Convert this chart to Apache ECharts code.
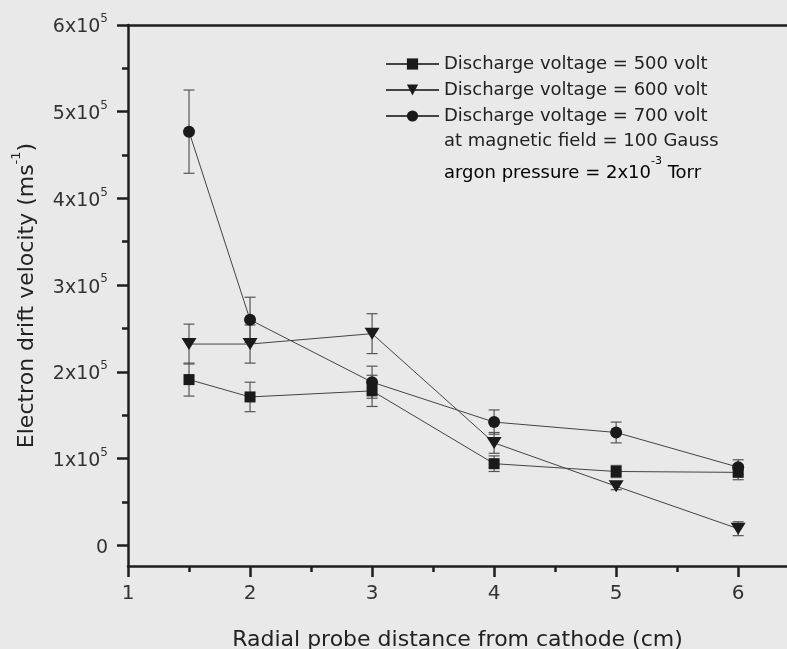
<!DOCTYPE html>
<html>
<head>
<meta charset="utf-8">
<script src="https://cdn.jsdelivr.net/npm/echarts@6/dist/echarts.min.js"></script>
<style>
html,body{margin:0;padding:0;background:#e9e9e9;}
#c{width:787px;height:649px;}
</style>
</head>
<body>
<div id="c"></div>
<script>
// Data
const xPos = [1.5, 2, 3, 4, 5, 6];
const v500 = [191000, 171000, 178000, 94000, 85000, 84000];
const e500 = [19000, 17000, 18000, 9000, 7000, 8500];
const v600 = [232000, 232000, 244000, 118000, 68000, 19000];
const e600 = [23000, 22000, 23000, 12000, 4000, 8000];
const v700 = [477000, 260000, 188000, 142000, 130000, 90000];
const e700 = [48000, 26000, 18500, 14000, 12000, 8500];
const names = ['Discharge voltage = 500 volt', 'Discharge voltage = 600 volt', 'Discharge voltage = 700 volt'];
const xTicks = [1, 2, 3, 4, 5, 6];
const xMinor = [1.5, 2.5, 3.5, 4.5, 5.5];
const yTicks = [0, 100000, 200000, 300000, 400000, 500000, 600000];
const yMinor = [50000, 150000, 250000, 350000, 450000, 550000];

const FONT = 'DejaVu Sans';
const pts = (vals) => xPos.map((x, i) => [x, vals[i]]);
const errs = [];
[[v500, e500], [v600, e600], [v700, e700]].forEach(([v, e]) => {
  xPos.forEach((x, i) => errs.push([x, v[i] - e[i], v[i] + e[i]]));
});

const X_MIN = 1, X_MAX = 6.4, Y_MIN = -24000, Y_MAX = 600000;
const axisLine = { show: true, onZero: false, lineStyle: { color: '#1e1e1e', width: 2.5 } };
const noLine = { show: false, onZero: false };

const chart = echarts.init(document.getElementById('c'));
const lineStyle = { color: '#444', width: 1 };
const itemStyle = { color: '#1a1a1a' };

chart.setOption({
  backgroundColor: '#e9e9e9',
  animation: false,
  grid: { left: 128, right: 0, top: 25, bottom: 83, outerBoundsMode: 'none' },
  legend: {
    data: names,
    orient: 'vertical',
    left: 385, top: 54, padding: 0,
    itemWidth: 53, itemHeight: 14, itemGap: 6,
    textStyle: { fontFamily: FONT, fontSize: 18, color: '#222', lineHeight: 20 },
    iconRotate: 'inherit'
  },
  graphic: [
    { type: 'text', left: 444, top: 132, style: { text: 'at magnetic field = 100 Gauss', font: '18px "DejaVu Sans"', fill: '#222' } },
    { type: 'text', left: 444, top: 156, style: {
        text: '{a|argon pressure = 2x10}{s|-3}{a| Torr}',
        rich: {
          a: { fontFamily: FONT, fontSize: 18, color: '#222', lineHeight: 26, verticalAlign: 'bottom' },
          s: { fontFamily: FONT, fontSize: 11, color: '#222', lineHeight: 12, verticalAlign: 'top' }
        }
    } }
  ],
  xAxis: [
    {
      type: 'value', position: 'bottom', min: X_MIN, max: X_MAX,
      axisLine: axisLine,
      axisTick: { show: true, customValues: xTicks, length: 11, lineStyle: { color: '#1e1e1e', width: 2.5 } },
      axisLabel: { customValues: xTicks, margin: 18, fontFamily: FONT, fontSize: 20, color: '#333' },
      splitLine: { show: false },
      name: 'Radial probe distance from cathode (cm)', nameLocation: 'middle', nameGap: 63,
      nameTextStyle: { fontFamily: FONT, fontSize: 22, color: '#222' }
    },
    {
      type: 'value', position: 'bottom', min: X_MIN, max: X_MAX,
      axisLine: noLine,
      axisTick: { show: true, customValues: xMinor, length: 6, lineStyle: { color: '#1e1e1e', width: 2.5 } },
      axisLabel: { show: false }, splitLine: { show: false }
    },
    {
      type: 'value', position: 'top', min: X_MIN, max: X_MAX,
      axisLine: axisLine, axisTick: { show: false }, axisLabel: { show: false }, splitLine: { show: false }
    }
  ],
  yAxis: [
    {
      type: 'value', position: 'left', min: Y_MIN, max: Y_MAX,
      axisLine: axisLine,
      axisTick: { show: true, customValues: yTicks, length: 11, lineStyle: { color: '#1e1e1e', width: 2.5 } },
      axisLabel: {
        customValues: yTicks, margin: 20, color: '#333', fontFamily: FONT, fontSize: 19,
        formatter: (v) => v === 0 ? '{b|0}' : '{b|' + Math.round(v / 100000) + 'x10}{s|5}',
        rich: {
          b: { fontFamily: FONT, fontSize: 19, color: '#333', lineHeight: 24, verticalAlign: 'bottom' },
          s: { fontFamily: FONT, fontSize: 12, color: '#333', lineHeight: 12, verticalAlign: 'top' }
        }
      },
      splitLine: { show: false },
      name: '{n|Electron drift velocity (ms}{s|-1}{n|)}', nameLocation: 'middle', nameGap: 90,
      nameTextStyle: {
        rich: {
          n: { fontFamily: FONT, fontSize: 22, color: '#222', lineHeight: 28, verticalAlign: 'bottom' },
          s: { fontFamily: FONT, fontSize: 13, color: '#222', lineHeight: 13, verticalAlign: 'top' }
        }
      }
    },
    {
      type: 'value', position: 'left', min: Y_MIN, max: Y_MAX,
      axisLine: noLine,
      axisTick: { show: true, customValues: yMinor, length: 6, lineStyle: { color: '#1e1e1e', width: 2.5 } },
      axisLabel: { show: false }, splitLine: { show: false }
    }
  ],
  series: [
    {
      type: 'custom', name: 'errors', xAxisIndex: 0, yAxisIndex: 0, z: 1,
      data: errs,
      renderItem: (params, api) => {
        const lo = api.coord([api.value(0), api.value(1)]);
        const hi = api.coord([api.value(0), api.value(2)]);
        const st = { stroke: '#555', lineWidth: 1.2 };
        const w = 5.5;
        return {
          type: 'group', children: [
            { type: 'line', shape: { x1: lo[0], y1: lo[1], x2: hi[0], y2: hi[1] }, style: st },
            { type: 'line', shape: { x1: lo[0] - w, y1: lo[1], x2: lo[0] + w, y2: lo[1] }, style: st },
            { type: 'line', shape: { x1: hi[0] - w, y1: hi[1], x2: hi[0] + w, y2: hi[1] }, style: st }
          ]
        };
      }
    },
    { type: 'line', name: names[0], data: pts(v500), symbol: 'rect', symbolSize: 11, lineStyle, itemStyle, z: 3 },
    { type: 'line', name: names[1], data: pts(v600), symbol: 'triangle', symbolSize: [15, 12], symbolRotate: 180, lineStyle, itemStyle, z: 3 },
    { type: 'line', name: names[2], data: pts(v700), symbol: 'circle', symbolSize: 12, lineStyle, itemStyle, z: 3 }
  ]
});
</script>
</body>
</html>
